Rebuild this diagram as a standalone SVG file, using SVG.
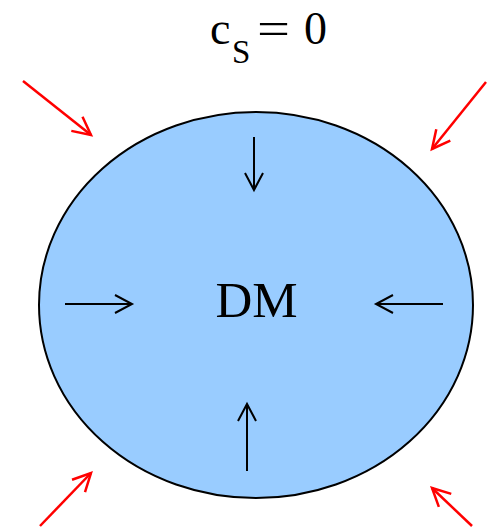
<svg xmlns="http://www.w3.org/2000/svg" width="493" height="528" viewBox="0 0 493 528">
<style>
.t{font-family:"Liberation Serif","Times New Roman",serif;fill:#000}
.red{stroke:#ff0000;stroke-width:2.5;fill:none}
.blk{stroke:#000;stroke-width:2;fill:none}
</style>
<defs>
<marker id="ahr" markerUnits="userSpaceOnUse" markerWidth="24" markerHeight="24" viewBox="-21 -12 24 24" refX="0" refY="0" orient="auto" overflow="visible">
<path d="M-18,-9 L0,0 L-18,9" fill="none" stroke="#ff0000" stroke-width="2.5"/>
</marker>
<marker id="ahb" markerUnits="userSpaceOnUse" markerWidth="24" markerHeight="24" viewBox="-21 -12 24 24" refX="0" refY="0" orient="auto" overflow="visible">
<path d="M-17,-9 L0,0 L-17,9" fill="none" stroke="#000" stroke-width="2"/>
</marker>
</defs>
<rect width="493" height="528" fill="#fff"/>
<g id="title">
<text class="t" x="210" y="44" font-size="46">c</text>
<text class="t" x="232" y="63" font-size="33">S</text>
<text class="t" x="257" y="44" font-size="46" textLength="33" lengthAdjust="spacingAndGlyphs">=</text>
<text class="t" x="304" y="44" font-size="46">0</text>
</g>
<g id="dm">
<ellipse cx="256" cy="305" rx="217" ry="193" fill="#99ccff" stroke="#000" stroke-width="2"/>
<text class="t" x="256.5" y="317" font-size="51" text-anchor="middle">DM</text>
</g>
<g id="connectors">
<line class="red" x1="23" y1="81" x2="91" y2="135" marker-end="url(#ahr)"/>
<line class="red" x1="486" y1="82" x2="432" y2="149" marker-end="url(#ahr)"/>
<line class="red" x1="40" y1="526" x2="91" y2="473" marker-end="url(#ahr)"/>
<line class="red" x1="472" y1="526" x2="432" y2="488" marker-end="url(#ahr)"/>
<line class="blk" x1="65" y1="304" x2="132" y2="304" marker-end="url(#ahb)"/>
<line class="blk" x1="443" y1="304" x2="376" y2="304" marker-end="url(#ahb)"/>
<line class="blk" x1="254" y1="137" x2="254" y2="190" marker-end="url(#ahb)"/>
<line class="blk" x1="247" y1="471" x2="247" y2="404" marker-end="url(#ahb)"/>
</g>
</svg>
